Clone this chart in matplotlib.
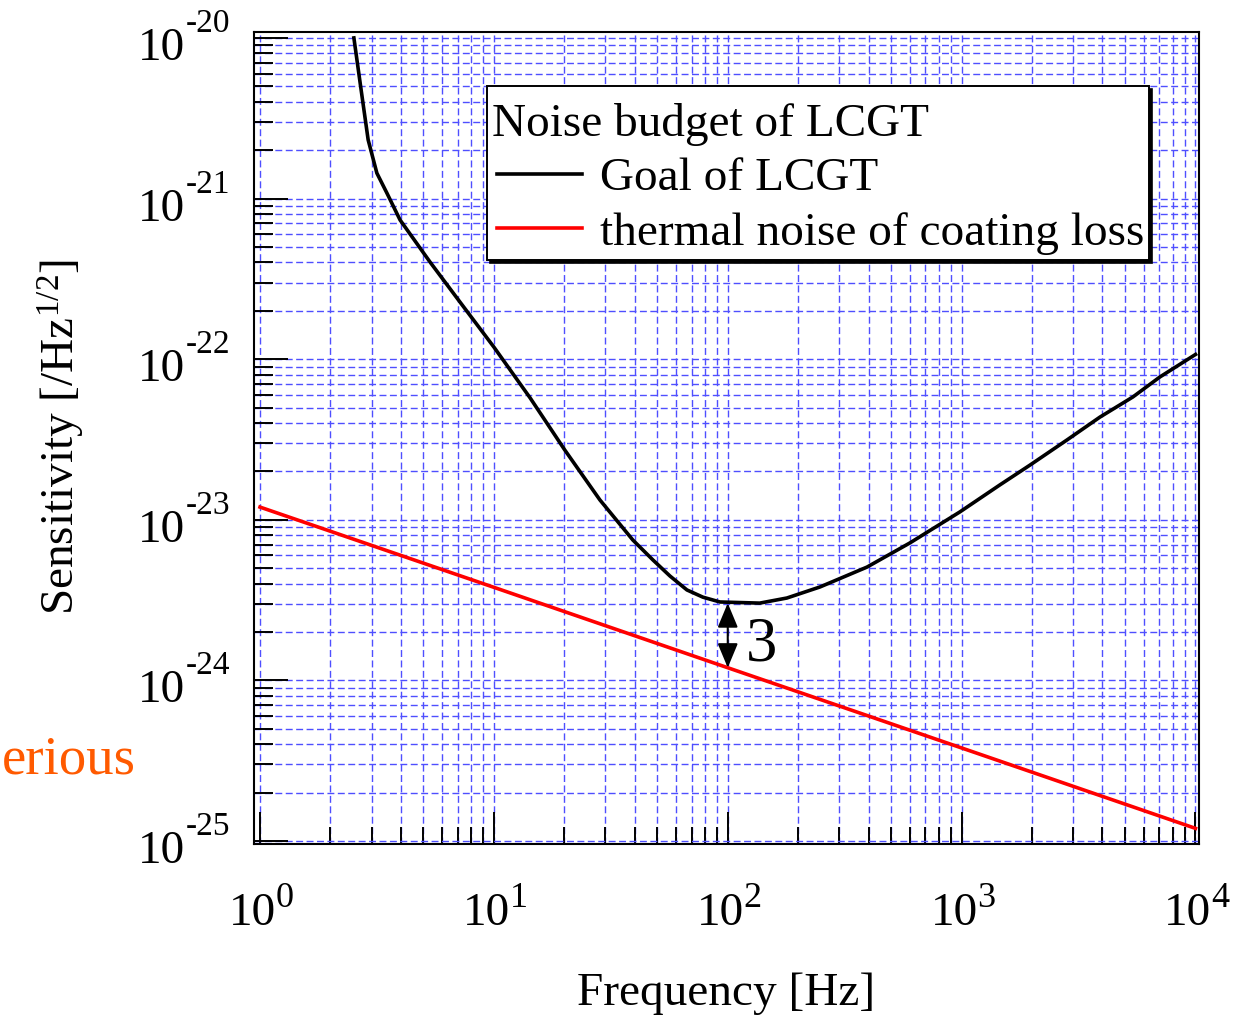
import numpy as np
import matplotlib
matplotlib.use("Agg")
import matplotlib.pyplot as plt
from matplotlib.patches import Rectangle
from matplotlib.lines import Line2D
from matplotlib.ticker import LogLocator, NullFormatter

plt.rcParams["font.family"] = ["Liberation Serif", "DejaVu Serif"]
plt.rcParams["mathtext.fontset"] = "custom"
plt.rcParams["mathtext.rm"] = "Liberation Serif"
plt.rcParams["mathtext.it"] = "Liberation Serif:italic"

# Goal sensitivity of LCGT [1/sqrt(Hz)]
goal_freq = [2.52, 2.68, 2.90, 3.16, 3.49, 3.97, 5.33, 7.16, 10.0, 14.3, 20.1,
             28.4, 39.3, 47.9, 56.6, 66.9, 78.3, 92.6, 137, 179, 248, 394,
             601, 983, 1458, 1959, 2820, 3903, 5400, 7043, 10000]
goal_sens = [1.0e-20, 5.25e-21, 2.32e-21, 1.44e-21, 1.08e-21, 7.36e-22,
             4.03e-22, 2.27e-22, 1.19e-22, 5.73e-23, 2.72e-23, 1.33e-23,
             7.48e-24, 5.62e-24, 4.47e-24, 3.66e-24, 3.30e-24, 3.08e-24,
             3.03e-24, 3.26e-24, 3.82e-24, 5.08e-24, 7.18e-24, 1.12e-23,
             1.65e-23, 2.19e-23, 3.14e-23, 4.36e-23, 5.82e-23, 7.75e-23,
             1.07e-22]

# Coating-loss thermal noise
coat_freq = [1, 10, 100, 1000, 10000]
coat_sens = [1.2e-23, 3.8e-24, 1.2e-24, 3.8e-25, 1.2e-25]

# Ratio marker at 100 Hz
ratio_freq = 100
ratio_top = 3.03e-24
ratio_bottom = 1.2e-24
ratio_label = "3"

x_decades = [0, 1, 2, 3, 4]
y_decades = [-25, -24, -23, -22, -21, -20]

legend_title = "Noise budget of LCGT"
legend_labels = ["Goal of LCGT", "thermal noise of coating loss"]
line_colors = ["black", "#ff0000"]

fig = plt.figure(figsize=(12.37, 10.18), dpi=100)
W, H = 1237, 1018
ax = fig.add_axes([254 / W, 1 - 844.3 / H, 945 / W, 812 / H])
ax.set_xscale("log")
ax.set_yscale("log")
ax.set_xlim(10 ** -0.0257, 10 ** 4.015)
ax.set_ylim(10 ** -25.02, 10 ** -19.965)

ax.xaxis.set_major_locator(LogLocator(base=10, numticks=100))
ax.yaxis.set_major_locator(LogLocator(base=10, numticks=100))
ax.xaxis.set_minor_locator(LogLocator(base=10, subs=np.arange(2, 10), numticks=100))
ax.yaxis.set_minor_locator(LogLocator(base=10, subs=np.arange(2, 10), numticks=100))
ax.xaxis.set_minor_formatter(NullFormatter())
ax.yaxis.set_minor_formatter(NullFormatter())

ax.grid(True, which="both", color="#4f4fff", linestyle=(0, (5, 2.5)), linewidth=1.0)
ax.tick_params(which="both", direction="in", top=False, right=False,
               labelbottom=False, labelleft=False, width=1.4)
ax.tick_params(axis="y", which="major", length=24.5)
ax.tick_params(axis="y", which="minor", length=13.5)
ax.tick_params(axis="x", which="major", length=23)
ax.tick_params(axis="x", which="minor", length=12)
for sp in ax.spines.values():
    sp.set_linewidth(1.5)

ax.plot(goal_freq, goal_sens, color=line_colors[0], lw=2.6, zorder=3,
        solid_joinstyle="round")
ax.plot(coat_freq, coat_sens, color=line_colors[1], lw=2.6, zorder=3)

# Tick labels as 10 with a raised exponent
for k in x_decades:
    ax.annotate("10", xy=(10.0 ** k, 0), xycoords=("data", "axes fraction"),
                xytext=(16, -80.7), textcoords="offset pixels", ha="right",
                va="baseline", fontsize=34, annotation_clip=False)
    ax.annotate(str(k), xy=(10.0 ** k, 0), xycoords=("data", "axes fraction"),
                xytext=(16, -62.7), textcoords="offset pixels", ha="left",
                va="baseline", fontsize=26, annotation_clip=False)
for k in y_decades:
    ax.annotate("10", xy=(0, 10.0 ** k), xycoords=("axes fraction", "data"),
                xytext=(-69, -22), textcoords="offset pixels", ha="right",
                va="baseline", fontsize=34, annotation_clip=False)
    ax.annotate("-" + str(abs(k)), xy=(0, 10.0 ** k), xycoords=("axes fraction", "data"),
                xytext=(-68, 6), textcoords="offset pixels", ha="left",
                va="baseline", fontsize=24, annotation_clip=False)

# Double arrow with the ratio between the two curves
ax.annotate("", xy=(ratio_freq, ratio_bottom), xytext=(ratio_freq, ratio_top),
            arrowprops=dict(arrowstyle="<|-|>,head_length=0.6,head_width=0.25",
                            color="black", lw=1.5, mutation_scale=25,
                            shrinkA=0, shrinkB=0), zorder=4)
ax.annotate(ratio_label, xy=(ratio_freq, np.sqrt(ratio_top * ratio_bottom)),
            xytext=(18, -25), textcoords="offset pixels", ha="left",
            va="baseline", fontsize=45, zorder=4)

# Legend box with a hard shadow
def fx(px):
    return (px - 254) / 945

def fy(py):
    return (844.3 - py) / 812

bx0, bx1, by0, by1 = fx(487), fx(1149), fy(260), fy(86)
ax.add_patch(Rectangle((bx0 + 3 / 945, by0 - 3 / 812), bx1 - bx0, by1 - by0,
                       transform=ax.transAxes, facecolor="black", edgecolor="black",
                       lw=1.2, zorder=5))
ax.add_patch(Rectangle((bx0, by0), bx1 - bx0, by1 - by0, transform=ax.transAxes,
                       facecolor="white", edgecolor="black", lw=1.4, zorder=6))
ax.text(fx(492), fy(136), legend_title, transform=ax.transAxes, ha="left",
        va="baseline", fontsize=34, zorder=7)
for i, (lab, col) in enumerate(zip(legend_labels, line_colors)):
    ly = [fy(174), fy(228)][i]
    tb = [fy(190), fy(245)][i]
    ax.add_line(Line2D([fx(497), fx(582)], [ly, ly], transform=ax.transAxes,
                       color=col, lw=2.6, zorder=7))
    ax.text(fx(600), tb, lab, transform=ax.transAxes, ha="left", va="baseline",
            fontsize=34, zorder=7)

fig.text(726 / W, 1 - 1005 / H, "Frequency [Hz]", ha="center", va="baseline",
         fontsize=34)
fig.text(75 / W, 1 - 437 / H, r"Sensitivity [/Hz$^{\mathregular{1/2}}$]",
         rotation=90, rotation_mode="anchor", ha="center", va="baseline",
         fontsize=34)
fig.text(2 / W, 1 - 773 / H, "erious", ha="left", va="baseline",
         color="#ff5a00", fontsize=39.5)

fig.savefig("out.png", dpi=100)
